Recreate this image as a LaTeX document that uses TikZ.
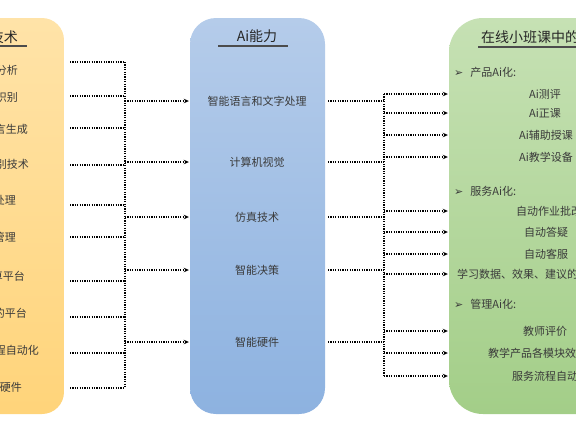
\documentclass[tikz,border=0pt]{standalone}
\usepackage{fontspec}
\newfontfamily\cjk{Noto Sans CJK SC}
\newfontfamily\dingfont{DejaVu Sans}
\newcommand\bulmark{{\dingfont\fontsize{11}{13}\selectfont ➢}\hspace{7pt}}
\usetikzlibrary{arrows.meta}
\definecolor{txt}{HTML}{3A3A3A}
\definecolor{otop}{HTML}{FFE3A8}
\definecolor{obot}{HTML}{FFD47A}
\definecolor{btop}{HTML}{B5CCEA}
\definecolor{bbot}{HTML}{8DB2E0}
\definecolor{gtop}{HTML}{C6E1B4}
\definecolor{gbot}{HTML}{A3CE88}
\tikzset{
  panel/.style={rectangle, draw=none, inner sep=0pt},
  item/.style={font=\cjk\fontsize{11}{13}\selectfont, text=txt, inner sep=0pt},
  ttl/.style={font=\cjk\fontsize{14}{16}\selectfont, text=black!85, inner sep=0pt},
  uline/.style={line width=1.6pt, draw=black!70},
  conn/.style={dash pattern=on 1.2pt off 1.2pt, line width=1.5pt, draw=black},
  arr/.style={conn, -{Stealth[length=5pt,width=4.5pt]}},
}
\begin{document}
\begin{tikzpicture}[x=1pt,y=-1pt]
\useasboundingbox (0,0) rectangle (576,432);
\clip (0,0) rectangle (576,432);
% panels
\node[panel, minimum width=224pt, minimum height=396pt, rounded corners=22pt,
      top color=otop, bottom color=obot] (lbox) at (-48,216) {};
\node[panel, minimum width=135pt, minimum height=396pt, rounded corners=26pt,
      top color=btop, bottom color=bbot] (mbox) at (257.5,216) {};
\node[panel, minimum width=260pt, minimum height=396pt, rounded corners=34pt,
      top color=gtop, bottom color=gbot] (rbox) at (579,216) {};
% titles
\node[ttl, anchor=east] (lt) at (18,37) {人工智能技术};
\draw[uline] (-60,46) -- (27,46);
\node[ttl] (mt) at (257,36) {Ai能力};
\draw[uline] (218,46) -- (288,46);
\node[ttl, anchor=west] (rt) at (481,37) {在线小班课中的Ai应用};
\draw[uline] (478,47) -- (600,47);
% left items
\node[item, anchor=east] (L1) at (18,70) {大数据分析};
\node[item, anchor=east] (L2) at (18,97) {图像识别};
\node[item, anchor=east] (L3) at (28,129) {自然语言生成};
\node[item, anchor=east] (L4) at (29,164) {语音识别技术};
\node[item, anchor=east] (L5) at (16,200) {图像处理};
\node[item, anchor=east] (L6) at (16,237) {知识管理};
\node[item, anchor=east] (L7) at (25,276) {云计算平台};
\node[item, anchor=east] (L8) at (27,313) {教学管理的平台};
\node[item, anchor=east] (L9) at (39,350) {流程自动化};
\node[item, anchor=east] (L10) at (22,387) {智能硬件};
% middle items
\node[item] (M1) at (257,101) {智能语言和文字处理};
\node[item] (M2) at (257,162) {计算机视觉};
\node[item] (M3) at (257,217) {仿真技术};
\node[item] (M4) at (257,270) {智能决策};
\node[item] (M5) at (257,342) {智能硬件};
% right headers
\node[item, anchor=west] (H1) at (454,72) {\bulmark 产品Ai化:};
\node[item, anchor=west] (H2) at (454,191) {\bulmark 服务Ai化:};
\node[item, anchor=west] (H3) at (454,304) {\bulmark 管理Ai化:};
% right items
\node[item] (R1) at (545,94) {Ai测评};
\node[item] (R2) at (545,113) {Ai正课};
\node[item] (R3) at (546,135) {Ai辅助授课};
\node[item] (R4) at (546,157) {Ai教学设备};
\node[item, anchor=west] (R5) at (516,211) {自动作业批改};
\node[item] (R6) at (546,232) {自动答疑};
\node[item] (R7) at (546,254) {自动客服};
\node[item, anchor=west] (R8) at (457,274) {学习数据、效果、建议的反馈};
\node[item] (R9) at (545,331) {教师评价};
\node[item, anchor=west] (R10) at (488,353) {教学产品各模块效果评估};
\node[item, anchor=west] (R11) at (512,376) {服务流程自动化};
% left connector ends
\coordinate (a1) at (70,62);
\coordinate (a2) at (70,96);
\coordinate (a3) at (70,128);
\coordinate (a4) at (70,165);
\coordinate (a5) at (70,205);
\coordinate (a6) at (70,237);
\coordinate (a7) at (70,281);
\coordinate (a8) at (70,317);
\coordinate (a9) at (70,353);
\coordinate (a10) at (70,388);
\coordinate (jl) at (125,0);
\coordinate (jr) at (384,0);
\coordinate (mo) at (328,0);
\foreach \i in {1,...,10} \draw[conn] (a\i) -- (a\i -| jl);
\draw[conn] (a1 -| jl) -- (a10 -| jl);
\foreach \i in {1,...,5} \draw[arr] (M\i -| jl) -- ([xshift=-1pt]M\i -| mbox.west);
% right connectors
\foreach \i in {1,...,5} \draw[conn] (M\i -| mo) -- (M\i -| jr);
\draw[conn] (R1 -| jr) -- (R11 -| jr);
\foreach \i in {1,...,11} \draw[arr] (R\i -| jr) -- ([xshift=-1pt]R\i -| rbox.west);
\end{tikzpicture}
\end{document}
